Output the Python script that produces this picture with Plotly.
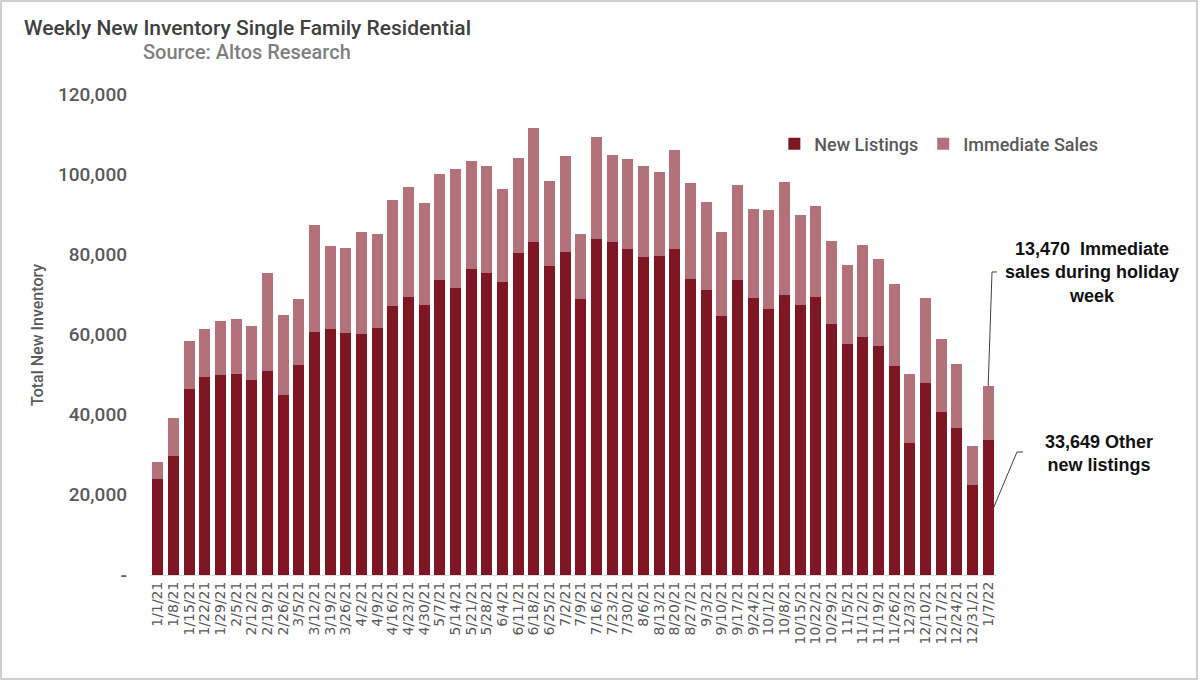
import plotly.graph_objects as go

weeks = ["1/1/21","1/8/21","1/15/21","1/22/21","1/29/21","2/5/21","2/12/21","2/19/21","2/26/21",
         "3/5/21","3/12/21","3/19/21","3/26/21","4/2/21","4/9/21","4/16/21","4/23/21","4/30/21",
         "5/7/21","5/14/21","5/21/21","5/28/21","6/4/21","6/11/21","6/18/21","6/25/21","7/2/21",
         "7/9/21","7/16/21","7/23/21","7/30/21","8/6/21","8/13/21","8/20/21","8/27/21","9/3/21",
         "9/10/21","9/17/21","9/24/21","10/1/21","10/8/21","10/15/21","10/22/21","10/29/21",
         "11/5/21","11/12/21","11/19/21","11/26/21","12/3/21","12/10/21","12/17/21","12/24/21",
         "12/31/21","1/7/22"]

new_listings = [23900, 29750, 46500, 49400, 49900, 50100, 48650, 51000, 44800,
                52300, 60650, 61250, 60500, 60150, 61600, 67150, 69400, 67400,
                73600, 71500, 76400, 75400, 73100, 80250, 83150, 77100, 80650,
                68750, 83900, 83150, 81400, 79400, 79500, 81250, 73750, 71000,
                64600, 73500, 69150, 66400, 69850, 67350, 69400, 62650,
                57750, 59400, 57100, 52250, 32900, 47900, 40650, 36650,
                22400, 33649]

totals = [28300, 39150, 58300, 61250, 63350, 63750, 62100, 75350, 64850,
          68900, 87400, 82100, 81650, 85650, 85150, 93600, 96900, 92900,
          100100, 101250, 103400, 102100, 96400, 104150, 111400, 98400, 104500,
          85150, 109300, 104750, 103900, 102100, 100650, 106000, 97750, 93000,
          85600, 97350, 91350, 91150, 98100, 89900, 92150, 83250,
          77400, 82350, 78750, 72500, 50150, 69000, 58900, 52650,
          32250, 47119]

immediate_sales = [t - n for t, n in zip(totals, new_listings)]

y_ticks = [0, 20000, 40000, 60000, 80000, 100000, 120000]
y_tick_labels = ["-", "20,000", "40,000", "60,000", "80,000", "100,000", "120,000"]

C_NEW = "#7F1623"
C_IMM = "#B3727A"
FONT = "Liberation Sans"

fig = go.Figure()
fig.add_trace(go.Bar(x=weeks, y=new_listings, name="New Listings",
                     marker=dict(color=C_NEW, line=dict(width=0))))
fig.add_trace(go.Bar(x=weeks, y=immediate_sales, name="Immediate Sales",
                     marker=dict(color=C_IMM, line=dict(width=0))))

n = len(weeks)
ymax = 120000
last_i = n - 1
last_total = new_listings[-1] + immediate_sales[-1]
# paper coordinate helpers derived from the axis ranges
def px_x(idx):
    return (idx + 0.5) / n
def px_y(val):
    return val / ymax

line_style = dict(color="#404040", width=1)
shapes = [
    dict(type="line", xref="paper", yref="paper",
         x0=px_x(last_i), y0=px_y(last_total), x1=0.9953, y1=0.630, line=line_style),
    dict(type="line", xref="paper", yref="paper",
         x0=0.9953, y0=0.630, x1=1.0012, y1=0.630, line=line_style),
    dict(type="line", xref="paper", yref="paper",
         x0=px_x(last_i + 0.35), y0=px_y(new_listings[-1] / 2), x1=1.0248, y1=0.2557, line=line_style),
    dict(type="line", xref="paper", yref="paper",
         x0=1.0248, y0=0.2557, x1=1.0319, y1=0.2557, line=line_style),
    # outer frame
    dict(type="rect", xref="paper", yref="paper",
         x0=(1 - 150) / 846, y0=(575 - 679) / 481, x1=(1197 - 150) / 846, y1=(575 - 1) / 481,
         line=dict(color="#BFBFBF", width=1.5), fillcolor="rgba(0,0,0,0)", layer="below"),
]

annotations = [
    dict(text="Weekly New Inventory Single Family Residential", xref="paper", yref="paper",
         x=(22 - 150) / 846, y=(575 - 28) / 481, xanchor="left", yanchor="middle",
         showarrow=False, font=dict(family="Roboto", size=21, color="#404040", weight=500)),
    dict(text="Source: Altos Research", xref="paper", yref="paper",
         x=(247 - 150) / 846, y=(575 - 52) / 481, xanchor="center", yanchor="middle",
         showarrow=False, font=dict(family="Roboto", size=20, color="#7F7F7F", weight=500)),
    dict(text="Total New Inventory", xref="paper", yref="paper",
         x=(37 - 150) / 846, y=(575 - 335) / 481, xanchor="center", yanchor="middle",
         textangle=-90, showarrow=False, font=dict(family="Roboto", size=16, color="#595959", weight=500)),
    dict(text="13,470  Immediate<br>sales during holiday<br>week", xref="paper", yref="paper",
         x=(1092 - 150) / 846, y=(575 - 272) / 481, xanchor="center", yanchor="middle",
         showarrow=False, align="center", font=dict(family=FONT, size=18, color="#111111", weight="bold")),
    dict(text="33,649 Other<br>new listings", xref="paper", yref="paper",
         x=(1099 - 150) / 846, y=(575 - 453) / 481, xanchor="center", yanchor="middle",
         showarrow=False, align="center", font=dict(family=FONT, size=18, color="#111111", weight="bold")),
]

fig.update_layout(
    width=1200, height=681,
    margin=dict(l=150, r=204, t=94, b=106),
    paper_bgcolor="white", plot_bgcolor="white",
    barmode="stack", bargap=0.3,
    font=dict(family=FONT, color="#595959"),
    showlegend=True,
    legend=dict(orientation="h", x=0.738, y=(575 - 144) / 481, xanchor="left", yanchor="middle",
                font=dict(family="Roboto", size=18, color="#595959", weight=500), traceorder="normal",
                bgcolor="rgba(0,0,0,0)"),
    shapes=shapes, annotations=annotations,
)
fig.update_xaxes(type="category", tickangle=-90, showgrid=False, showline=True,
                 linecolor="#D9D9D9", linewidth=1, ticks="", tickmode="linear", dtick=1,
                 tickfont=dict(family="DejaVu Sans", size=14, color="#595959"),
                 range=[-0.5, n - 0.5])
fig.update_yaxes(range=[0, ymax], tickvals=y_ticks, ticktext=y_tick_labels,
                 showgrid=False, zeroline=False, showline=False,
                 tickfont=dict(family="Roboto", size=19, color="#595959", weight=500), ticks="",
                 ticklabelstandoff=22)

fig.write_html("out.html", config={"displayModeBar": False},
               post_script="document.body.style.margin='0';")
